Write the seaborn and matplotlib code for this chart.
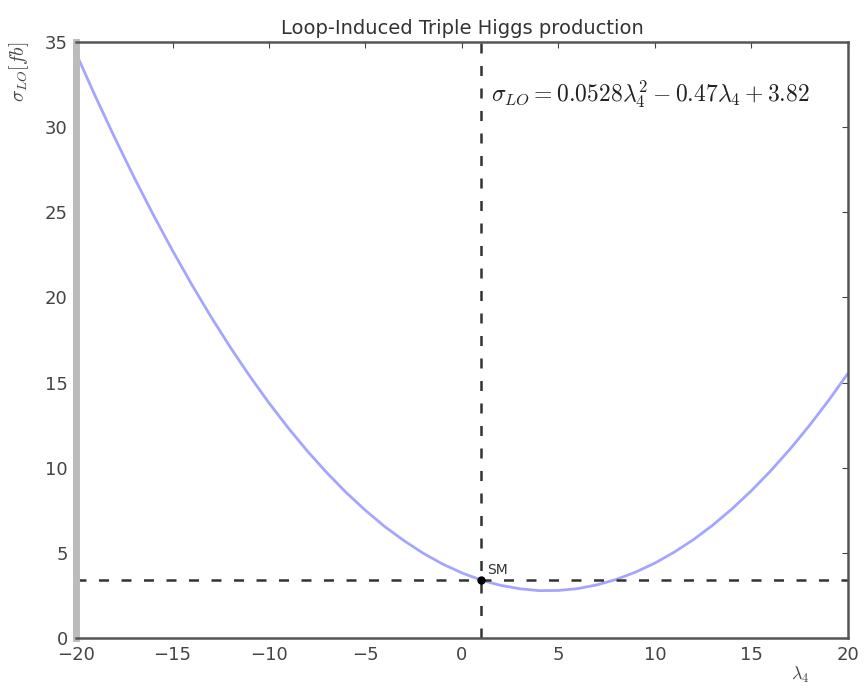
import matplotlib
matplotlib.use("Agg")
import matplotlib.pyplot as plt
import seaborn as sns
import pandas as pd

lam = list(range(-20, 21))
sigma = [34.34, 31.81, 29.39, 27.07, 24.86, 22.75, 20.75, 18.85, 17.06, 15.38,
         13.80, 12.33, 10.96, 9.70, 8.54, 7.49, 6.54, 5.71, 4.97, 4.34,
         3.82, 3.40, 3.09, 2.89, 2.78, 2.79, 2.90, 3.12, 3.44, 3.87,
         4.40, 5.04, 5.78, 6.63, 7.59, 8.65, 9.82, 11.09, 12.47, 13.95, 15.54]
sm_lam = [1.0]
sm_sigma = [3.40]
title = "Loop-Induced Triple Higgs production"
eq_text = r"$\sigma_{LO} = 0.0528\lambda_4^2 - 0.47\lambda_4 + 3.82$"

sns.set_style("white")
plt.rcParams['font.family'] = ['DejaVu Sans']
plt.rcParams['mathtext.fontset'] = 'cm'

df = pd.DataFrame({"lam": lam, "sigma": sigma})
fig = plt.figure(figsize=(8.67, 6.88), dpi=100)
ax = fig.add_axes([0.0877, 0.0727, 0.8903, 0.8663])

sns.lineplot(data=df, x="lam", y="sigma", ax=ax, color="#6a6aff", alpha=0.6, lw=2)
ax.axvline(sm_lam[0], color="#333333", ls=(0, (4, 5)), lw=1.8)
ax.axhline(sm_sigma[0], color="#333333", ls=(0, (4, 5)), lw=1.8)
ax.scatter(sm_lam, sm_sigma, color="black", s=25, zorder=5)
ax.text(sm_lam[0] + 0.3, sm_sigma[0] + 0.35, "SM", fontsize=10, color="#333333")
ax.text(1.5, 31.9, eq_text, fontsize=17, va="center", color="#222222")

ax.set_xlim(-20, 20)
ax.set_ylim(0, 35)
ax.set_xticks(range(-20, 21, 5))
ax.set_yticks(range(0, 36, 5))
ax.set_title(title, fontsize=14, color="#333333")
ax.set_xlabel(r"$\lambda_4$", fontsize=13, color="#444444")
ax.set_ylabel(r"$\sigma_{LO}[fb]$", fontsize=14, color="#444444")
ax.xaxis.set_label_coords(0.938, -0.045)
ax.yaxis.set_label_coords(-0.058, 0.95)
ax.tick_params(direction="in", length=4, top=True, right=True, labelsize=13,
               colors="#444444", pad=6)
for s in ["top", "right", "bottom"]:
    ax.spines[s].set_color("#555555")
    ax.spines[s].set_linewidth(1.8)
ax.spines["left"].set_color("#bbbbbb")
ax.spines["left"].set_linewidth(5)

fig.savefig("out.png", dpi=100)
